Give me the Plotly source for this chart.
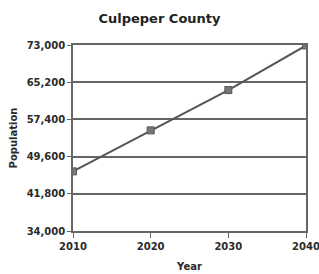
import plotly.graph_objects as go

years = [2010, 2020, 2030, 2040]
population = [46500, 55100, 63550, 72900]
y_ticks = [34000, 41800, 49600, 57400, 65200, 73000]
y_tick_labels = ["34,000", "41,800", "49,600", "57,400", "65,200", "73,000"]
x_ticks = [2010, 2020, 2030, 2040]

fig = go.Figure()
fig.add_trace(go.Scatter(
    x=years, y=population, mode="lines+markers",
    line=dict(color="#555555", width=2),
    marker=dict(symbol="square", size=7, color="#777777", line=dict(color="#555555", width=1)),
    showlegend=False,
))

font_main = "DejaVu Sans"
fig.update_layout(
    width=319, height=274,
    margin=dict(l=73, r=13, t=45, b=43, autoexpand=False),
    paper_bgcolor="white", plot_bgcolor="white",
    title=dict(text="<b>Culpeper County</b>", x=0.5, xref="container", xanchor="center",
               y=1 - 18 / 274, yanchor="middle",
               font=dict(family=font_main, size=13, color="#222222")),
    font=dict(family=font_main, color="#2a2a2a"),
)
fig.update_xaxes(
    range=[2010, 2040], tickvals=x_ticks, ticktext=[f"<b>{v}</b>" for v in x_ticks],
    showgrid=False, zeroline=False, automargin=False, ticklabeloverflow="allow",
    showline=True, linecolor="#666666", linewidth=1.5, mirror=True,
    ticks="outside", ticklen=5, tickcolor="#666666",
    tickfont=dict(size=10, color="#2a2a2a"),
    title=dict(text="<b>Year</b>", font=dict(size=10, color="#2a2a2a"), standoff=12),
)
fig.update_yaxes(
    range=[34000, 73000], tickvals=y_ticks, ticktext=[f"<b>{t}</b>" for t in y_tick_labels],
    showgrid=True, gridcolor="#666666", gridwidth=1.5, zeroline=False, automargin=False,
    ticklabeloverflow="allow",
    showline=True, linecolor="#666666", linewidth=1.5, mirror=True,
    ticks="outside", ticklen=4, tickcolor="#666666",
    tickfont=dict(size=10, color="#2a2a2a"),
    title=dict(text="<b>Population</b>", font=dict(size=10, color="#2a2a2a"), standoff=7),
)

fig.write_html(
    "out.html",
    config={"displayModeBar": False},
    post_script="document.body.style.margin='0';document.body.style.overflow='hidden';",
)
